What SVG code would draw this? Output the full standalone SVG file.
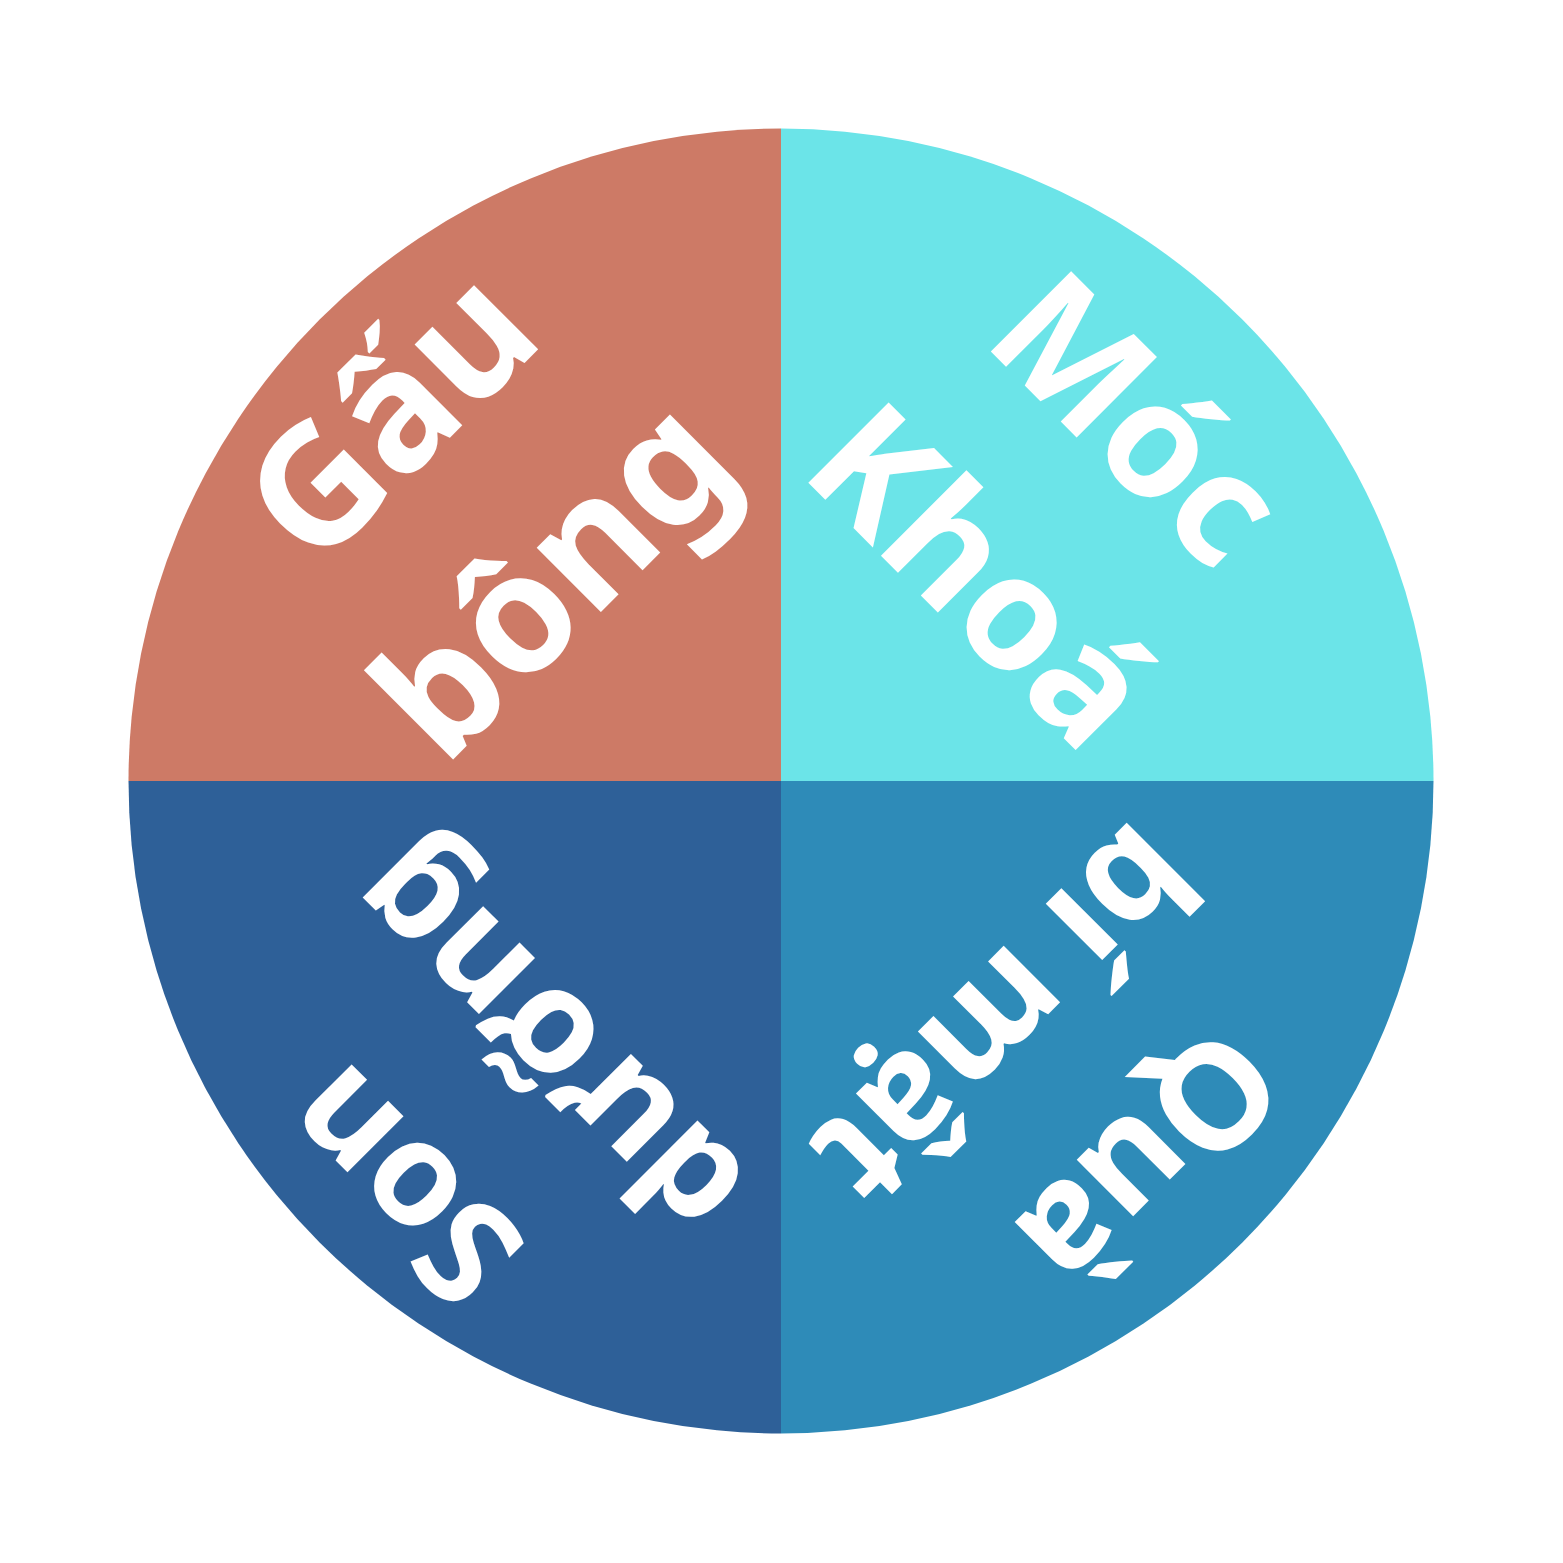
<svg xmlns="http://www.w3.org/2000/svg" width="1563" height="1563" viewBox="0 0 1563 1563">
<style>
.lbl{font-family:"Noto Sans","Open Sans","DejaVu Sans",sans-serif;font-weight:700;fill:#ffffff;text-anchor:middle}
</style>
<rect width="1563" height="1563" fill="#ffffff"/>
<g id="slice-gau-bong">
<path d="M781,781 L128.5,781 A652.5,652.5 0 0 1 781,128.5 Z" fill="#CD7A66"/>
<g transform="translate(781,781) rotate(-45)"><text class="lbl" font-size="166"><tspan x="-18" y="-477">Gấu</tspan><tspan x="-18" y="-247">bông</tspan></text></g>
</g>
<g id="slice-moc-khoa">
<path d="M781,781 L781,128.5 A652.5,652.5 0 0 1 1433.5,781 Z" fill="#6BE4E8"/>
<g transform="translate(781,781) rotate(45)"><text class="lbl" font-size="159"><tspan x="-4" y="-452">Móc</tspan><tspan x="-4" y="-230">Khoá</tspan></text></g>
</g>
<g id="slice-qua-bi-mat">
<path d="M781,781 L1433.5,781 A652.5,652.5 0 0 1 781,1433.5 Z" fill="#2E8BB8"/>
<g transform="translate(781,781) rotate(135)"><text class="lbl" font-size="146"><tspan x="8" y="-477">Quà</tspan><tspan x="8" y="-274">bí mật</tspan></text></g>
</g>
<g id="slice-son-duong">
<path d="M781,781 L781,1433.5 A652.5,652.5 0 0 1 128.5,781 Z" fill="#2E6098"/>
<g transform="translate(781,781) rotate(-135)"><text class="lbl" font-size="145"><tspan x="-19" y="-504">Son</tspan><tspan x="-19" y="-299">dưỡng</tspan></text></g>
</g>
<g id="connectors"></g>
</svg>
